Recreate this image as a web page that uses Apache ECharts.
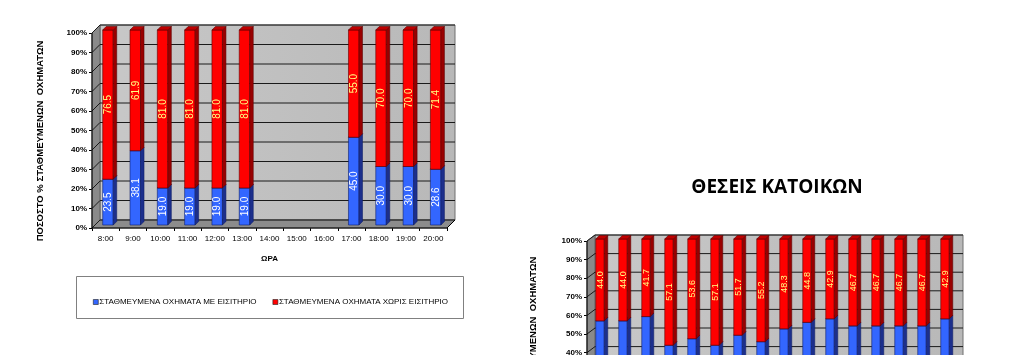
<!DOCTYPE html>
<html><head><meta charset="utf-8">
<script src="https://cdn.jsdelivr.net/npm/echarts@6/dist/echarts.min.js"></script>
<style>html,body{margin:0;padding:0;background:#fff}#c{width:1024px;height:355px}</style>
</head><body><div id="c"></div>
<script>
// ---- data ----
const hoursA = ['8:00','9:00','10:00','11:00','12:00','13:00','14:00','15:00','16:00','17:00','18:00','19:00','20:00'];
const withTicketA = [23.5, 38.1, 19.0, 19.0, 19.0, 19.0, null, null, null, 45.0, 30.0, 30.0, 28.6];
const withoutTicketA = [76.5, 61.9, 81.0, 81.0, 81.0, 81.0, null, null, null, 55.0, 70.0, 70.0, 71.4];

const hoursB = ['8:00','9:00','10:00','11:00','12:00','13:00','14:00','15:00','16:00','17:00','18:00','19:00','20:00','21:00','22:00','23:00'];
const withTicketB = [56.0, 56.0, 58.3, 42.9, 46.4, 42.9, 48.3, 44.8, 51.7, 55.2, 57.1, 53.3, 53.3, 53.3, 53.3, 57.1];
const withoutTicketB = [44.0, 44.0, 41.7, 57.1, 53.6, 57.1, 51.7, 55.2, 48.3, 44.8, 42.9, 46.7, 46.7, 46.7, 46.7, 42.9];

const yTicks = [0,10,20,30,40,50,60,70,80,90,100];
const nameBlue = 'ΣΤΑΘΜΕΥΜΕΝΑ ΟΧΗΜΑΤΑ ΜΕ ΕΙΣΙΤΗΡΙΟ';
const nameRed = 'ΣΤΑΘΜΕΥΜΕΝΑ ΟΧΗΜΑΤΑ ΧΩΡΙΣ ΕΙΣΙΤΗΡΙΟ';
const yName = 'ΠΟΣΟΣΤΟ % ΣΤΑΘΜΕΥΜΕΝΩΝ  ΟΧΗΜΑΤΩΝ';
const titleB = 'ΘΕΣΕΙΣ ΚΑΤΟΙΚΩΝ';

const FONT = 'Liberation Sans, Arial, sans-serif';

function wallRender(nCats, dx, dy) {
  return function (params, api) {
    const band = api.size([1, 0])[0];
    const xl = api.coord([0, 0])[0] - band / 2;
    const xr = api.coord([nCats - 1, 0])[0] + band / 2;
    const y0 = api.coord([0, 0])[1];
    const y100 = api.coord([0, 100])[1];
    const ch = [];
    ch.push({type: 'rect', shape: {x: xl + dx, y: y100 + dy, width: xr - xl, height: y0 - y100},
      style: {fill: {type: 'linear', x: 0, y: 0, x2: 1, y2: 0, colorStops: [{offset: 0, color: '#c8c8c8'}, {offset: 1, color: '#b8b8b8'}]}, stroke: '#707070', lineWidth: 1}});
    ch.push({type: 'polygon', shape: {points: [[xl, y0], [xl, y100], [xl + dx, y100 + dy], [xl + dx, y0 + dy]]},
      style: {fill: '#8a8a8a', stroke: '#606060', lineWidth: 1}});
    ch.push({type: 'polygon', shape: {points: [[xl, y0], [xr, y0], [xr + dx, y0 + dy], [xl + dx, y0 + dy]]},
      style: {fill: '#8c8c8c', stroke: '#606060', lineWidth: 1}});
    yTicks.forEach(function (v) {
      const y = api.coord([0, v])[1];
      ch.push({type: 'polyline', shape: {points: [[xl, y], [xl + dx, y + dy], [xr + dx, y + dy]]},
        style: {stroke: '#1a1a1a', lineWidth: 1, fill: null}});
    });
    ch.push({type: 'line', shape: {x1: xl, y1: y0, x2: xl, y2: y100}, style: {stroke: '#000', lineWidth: 1}});
    ch.push({type: 'line', shape: {x1: xl, y1: y0, x2: xr, y2: y0}, style: {stroke: '#000', lineWidth: 1}});
    ch.push({type: 'line', shape: {x1: xr, y1: y0, x2: xr + dx, y2: y0 + dy}, style: {stroke: '#000', lineWidth: 1}});
    return {type: 'group', children: ch};
  };
}

function barRender(cfg) {
  return function (params, api) {
    const v1 = api.value(1), v2 = api.value(2);
    if (v1 == null || v2 == null || isNaN(v1) || isNaN(v2)) return;
    const c0 = api.coord([api.value(0), v1]);
    const c1 = api.coord([api.value(0), v2]);
    const w = cfg.w, d = cfg.d;
    const x = c0[0] - w / 2 + cfg.ox;
    const yb = c0[1] + cfg.oy, yt = c1[1] + cfg.oy;
    const lbl = api.value(3);
    return {type: 'group', children: [
      {type: 'rect', shape: {x: x, y: yt, width: w, height: yb - yt}, style: {fill: cfg.front, stroke: cfg.edge, lineWidth: 0.6}},
      {type: 'polygon', shape: {points: [[x + w, yb], [x + w + d, yb - d], [x + w + d, yt - d], [x + w, yt]]}, style: {fill: cfg.side, stroke: cfg.edge, lineWidth: 0.6}},
      {type: 'polygon', shape: {points: [[x, yt], [x + w, yt], [x + w + d, yt - d], [x + d, yt - d]]}, style: {fill: cfg.top, stroke: cfg.edge, lineWidth: 0.6}},
      {type: 'text', x: x + w / 2 + 0.5, y: (yt + yb) / 2, rotation: Math.PI / 2,
        style: {text: Number(lbl).toFixed(1), fill: cfg.txt, font: cfg.fs + 'px ' + FONT, align: 'center', verticalAlign: 'middle'}}
    ]};
  };
}

function stackData(lo) {
  return lo.map(function (b, i) {
    if (b == null) return [i, null, null, null];
    return [i, 0, b, b];
  });
}
function stackDataTop(lo, hi) {
  return lo.map(function (b, i) {
    if (b == null || hi[i] == null) return [i, null, null, null];
    return [i, b, b + hi[i], hi[i]];
  });
}

const blueStyle = {front: '#3366ff', side: '#1c2f8c', top: '#2444b8', edge: '#10206a', txt: '#ffffff'};
const redStyle = {front: '#ff0000', side: '#990000', top: '#c00000', edge: '#600000', txt: '#ffff80'};

const cfgA = {w: 10.5, d: 3.5, ox: 2.3, oy: -3, fs: 10};
const cfgB = {w: 8.5, d: 3.5, ox: 1.5, oy: -2, fs: 9};

function yAxisDef(gi) {
  return {gridIndex: gi, type: 'value', min: 0, max: 100, interval: 10,
    axisLine: {show: false}, splitLine: {show: false},
    axisTick: {show: true, length: 3, lineStyle: {color: '#000'}},
    axisLabel: {formatter: '{value}%', fontSize: 8, fontWeight: 'bold', color: '#000', fontFamily: FONT, margin: 5}};
}
function xAxisDef(gi, cats, name) {
  return {gridIndex: gi, type: 'category', data: cats,
    name: name, nameLocation: 'middle', nameGap: 27,
    nameTextStyle: {fontSize: 8, fontWeight: 'bold', color: '#000', fontFamily: FONT},
    axisLine: {show: false}, splitLine: {show: false},
    axisTick: {show: true, length: 3, lineStyle: {color: '#000'}},
    axisLabel: {fontSize: 8, color: '#000', fontFamily: FONT, margin: 7, interval: 0}};
}

const chart = echarts.init(document.getElementById('c'), null, {renderer: 'canvas'});
chart.setOption({
  animation: false,
  backgroundColor: '#fff',
  grid: [
    {left: 92, top: 33, width: 355, height: 195, outerBoundsMode: 'none', containLabel: false},
    {left: 587, top: 241, width: 368, height: 186, outerBoundsMode: 'none', containLabel: false}
  ],
  xAxis: [xAxisDef(0, hoursA, 'ΩΡΑ'), xAxisDef(1, hoursB, 'ΩΡΑ')],
  yAxis: [yAxisDef(0), yAxisDef(1)],
  legend: {
    left: 88, top: 293, itemWidth: 5, itemHeight: 5, itemGap: 16,
    icon: 'rect', data: [nameBlue, nameRed],
    itemStyle: {borderColor: '#202020', borderWidth: 0.6},
    textStyle: {fontSize: 8, color: '#000', fontFamily: FONT, padding: [0, 0, 0, -4]}
  },
  graphic: [
    {type: 'rect', z: -1, shape: {x: 76.5, y: 276.5, width: 387, height: 42}, style: {fill: '#fff', stroke: '#808080', lineWidth: 1}},
    {type: 'text', x: 40, y: 141, rotation: Math.PI / 2,
      style: {text: yName, font: 'bold 9.5px ' + FONT, fill: '#000', align: 'center', verticalAlign: 'middle'}},
    {type: 'text', x: 533, y: 357, rotation: Math.PI / 2,
      style: {text: yName, font: 'bold 9.5px ' + FONT, fill: '#000', align: 'center', verticalAlign: 'middle'}},
    {type: 'text', x: 777, y: 188,
      style: {text: titleB, font: 'bold 19px "Open Sans", sans-serif', fill: '#000', align: 'center', verticalAlign: 'middle'}}
  ],
  series: [
    {type: 'custom', name: 'wallA', xAxisIndex: 0, yAxisIndex: 0, z: 1, silent: true, clip: false,
      renderItem: wallRender(hoursA.length, 8, -8), data: [[0, 0]]},
    {type: 'custom', name: nameBlue, xAxisIndex: 0, yAxisIndex: 0, z: 3, clip: false,
      itemStyle: {color: '#3366ff'}, renderItem: barRender(Object.assign({}, cfgA, blueStyle)),
      encode: {x: 0, y: 2}, data: stackData(withTicketA)},
    {type: 'custom', name: nameRed, xAxisIndex: 0, yAxisIndex: 0, z: 3, clip: false,
      itemStyle: {color: '#ff0000'}, renderItem: barRender(Object.assign({}, cfgA, redStyle)),
      encode: {x: 0, y: 2}, data: stackDataTop(withTicketA, withoutTicketA)},
    {type: 'custom', name: 'wallB', xAxisIndex: 1, yAxisIndex: 1, z: 1, silent: true, clip: false,
      renderItem: wallRender(hoursB.length, 8, -6), data: [[0, 0]]},
    {type: 'custom', name: nameBlue, xAxisIndex: 1, yAxisIndex: 1, z: 3, clip: false,
      itemStyle: {color: '#3366ff'}, renderItem: barRender(Object.assign({}, cfgB, blueStyle)),
      encode: {x: 0, y: 2}, data: stackData(withTicketB)},
    {type: 'custom', name: nameRed, xAxisIndex: 1, yAxisIndex: 1, z: 3, clip: false,
      itemStyle: {color: '#ff0000'}, renderItem: barRender(Object.assign({}, cfgB, redStyle)),
      encode: {x: 0, y: 2}, data: stackDataTop(withTicketB, withoutTicketB)}
  ]
});
</script></body></html>
